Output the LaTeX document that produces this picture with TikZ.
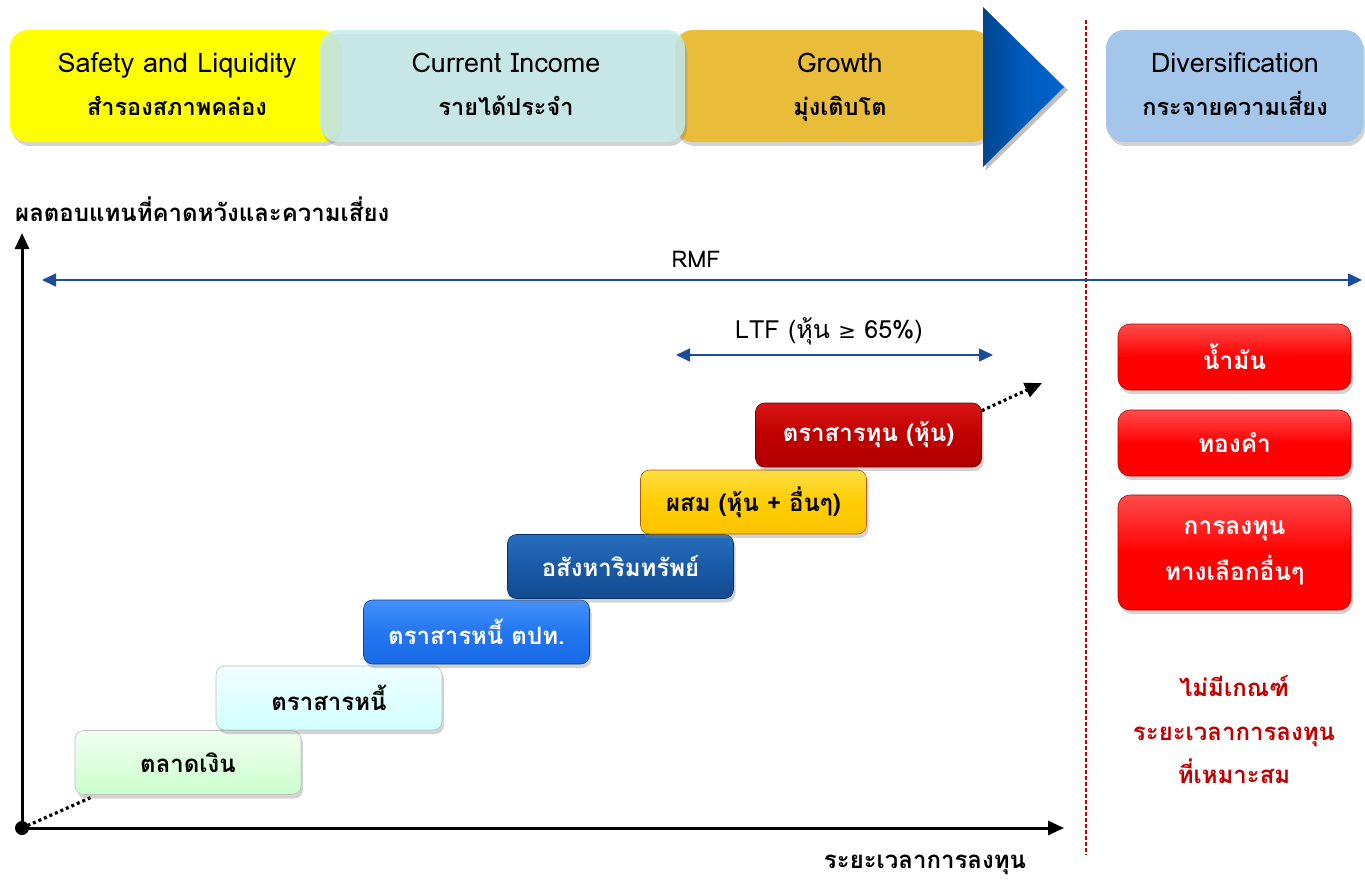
\documentclass[tikz,border=0pt]{standalone}
\usepackage{fontspec}
\setmainfont[Script=Thai]{Loma}
\newfontfamily\symfont{DejaVu Sans}
\usetikzlibrary{arrows.meta,shadows,shapes.geometric}
\definecolor{cYellow}{HTML}{FFFF00}
\definecolor{cCyan}{HTML}{C5EBEB}
\definecolor{cGold}{HTML}{E9BC3A}
\definecolor{cDiv}{HTML}{A3C6EA}
\definecolor{cNavy}{HTML}{1A4C9C}
\definecolor{cDark}{HTML}{C00000}
\definecolor{cBlue}{HTML}{0063CC}
\begin{document}
\begin{tikzpicture}[x=1pt,y=-1pt,
  topbox/.style={rounded corners=18pt, minimum height=112pt, align=center,
     inner sep=0pt,
     drop shadow={shadow xshift=2pt, shadow yshift=-4pt, opacity=0.35}},
  engt/.style={font=\fontsize{27}{32}\selectfont, inner sep=0pt, anchor=base},
  thait/.style={font=\bfseries\fontsize{23.5}{28}\selectfont, inner sep=0pt, anchor=base},
  stepbox/.style={rounded corners=9pt, minimum width=226pt, minimum height=64pt,
     font=\bfseries\fontsize{24}{28}\selectfont, inner sep=0pt, draw=black!25, line width=0.6pt,
     drop shadow={shadow xshift=2pt, shadow yshift=-4pt, opacity=0.35}},
  altbox/.style={rounded corners=12pt, minimum width=233pt, align=center,
     font=\bfseries\fontsize{24.5}{46}\selectfont, inner sep=0pt, text=white,
     top color=red!70!white, bottom color=red, middle color=red, draw=red!70!black, line width=0.6pt,
     drop shadow={shadow xshift=2pt, shadow yshift=-4pt, opacity=0.35}},
  rng/.style={cNavy, line width=1.6pt, {Triangle[width=13pt,length=14pt]}-{Triangle[width=13pt,length=14pt]}},
  axis/.style={black, line width=3pt, -{Triangle[width=14pt,length=16pt]}},
  dots/.style={black, line width=3.2pt, dash pattern=on 3pt off 3pt, line cap=butt},
  lbl/.style={font=\fontsize{23}{27}\selectfont, inner sep=0pt},
  blbl/.style={font=\bfseries\fontsize{24}{28}\selectfont, inner sep=0pt},
  redtxt/.style={text=cDark, font=\bfseries\fontsize{24}{43.5}\selectfont, align=center, inner sep=0pt}
]
\useasboundingbox (0,0) rectangle (1365,892);

% top band
\node[topbox, fill=cYellow, minimum width=330pt] (safe) at (175,86) {};
\node[topbox, fill=cGold, minimum width=315pt] (grow) at (832.5,86) {};
\node[topbox, fill=cCyan, fill opacity=0.85, minimum width=365pt, drop shadow={opacity=0}] (inc) at (502.5,86) {};
\node[engt] (safe1) at (177,72) {Safety and Liquidity};
\node[thait] (safe2) at (177,115) {สำรองสภาพคล่อง};
\node[engt] (inc1) at (506,72) {Current Income};
\node[thait] (inc2) at (506,115) {รายได้ประจำ};
\node[engt] (grow1) at (840,72) {Growth};
\node[thait] (grow2) at (840,115) {มุ่งเติบโต};
\fill[black, opacity=0.25] (986,10) -- (986,170) -- (1068,90) -- cycle;
\shade[left color=cBlue!70!black, right color=cBlue, middle color=cBlue!92!black] (983,7) -- (983,167) -- (1064,87) -- cycle;
\coordinate (tri) at (1064,87);

\node[topbox, fill=cDiv, minimum width=257pt] (div) at (1234.5,86) {};
\node[engt] (div1) at (1235,72) {Diversification};
\node[thait] (div2) at (1235,115) {กระจายความเสี่ยง};

% divider
\draw[cDark, line width=1.3pt, dash pattern=on 4pt off 2pt] (1086,20) coordinate (d1) -- (1086,855) coordinate (d2);

% axes
\coordinate (O) at (22,828);
\coordinate (ytop) at (22,233);
\coordinate (xend) at (1064,828);
\draw[axis] (O) -- (ytop);
\draw[axis] (O) -- (xend);
\fill[black] (O) circle (7pt);
\node[blbl, anchor=west] (ylab) at (15,209) {ผลตอบแทนที่คาดหวังและความเสี่ยง};
\node[blbl] (xlab) at (925,865) {ระยะเวลาการลงทุน};

% ranges
\coordinate (r1) at (42,280);
\coordinate (r2) at (1362,280);
\draw[rng] (r1) -- (r2);
\node[lbl] (rmf) at (696,259) {RMF};
\coordinate (l1) at (676,355);
\coordinate (l2) at (993,355);
\draw[rng] (l1) -- (l2);
\node[lbl, font=\fontsize{25}{29}\selectfont] (ltf) at (829,331) {LTF (หุ้น {\symfont\fontsize{21}{24}\selectfont ≥} 65\%)};

% dotted leaders
\coordinate (s1c) at (92,797);
\draw[dots] (O) -- (s1c);

% steps
\node[stepbox, top color=green!6, bottom color=green!20!white] (s1) at (188,762.5) {ตลาดเงิน};
\node[stepbox, top color=cyan!6, bottom color=cyan!18!white] (s2) at (329,698) {ตราสารหนี้};
\node[stepbox, top color={rgb,255:red,70;green,145;blue,250}, bottom color={rgb,255:red,25;green,105;blue,230}, middle color={rgb,255:red,35;green,118;blue,240}, text=white, draw=cBlue!70!black] (s3) at (476.5,632) {ตราสารหนี้ ตปท.};
\node[stepbox, top color={rgb,255:red,40;green,110;blue,190}, bottom color={rgb,255:red,18;green,75;blue,145}, middle color={rgb,255:red,25;green,90;blue,165}, text=white, draw=cBlue!50!black] (s4) at (620.5,566.5) {อสังหาริมทรัพย์};
\node[stepbox, top color={rgb,255:red,255;green,222;blue,70}, bottom color={rgb,255:red,250;green,195;blue,0}, middle color={rgb,255:red,255;green,205;blue,0}, draw=orange!70!black] (s5) at (753.5,502) {ผสม (หุ้น + อื่นๆ)};
\node[stepbox, top color={rgb,255:red,215;green,20;blue,20}, bottom color={rgb,255:red,175;green,0;blue,0}, middle color=cDark, text=white, draw=cDark!60!black] (s6) at (868.5,435) {ตราสารทุน (หุ้น)};

\coordinate (dend) at (1042,383);
\draw[dots, -{Triangle[width=15pt,length=17pt]}] ([yshift=-8pt]s6.north east) -- (dend);

% alternatives
\node[altbox, minimum height=66pt] (oil) at (1234.5,357) {น้ำมัน};
\node[altbox, minimum height=66pt] (gold) at (1234.5,443) {ทองคำ};
\node[altbox, minimum height=115pt] (alt) at (1234.5,552.5) {การลงทุน\\ทางเลือกอื่นๆ};

\node[redtxt] (note) at (1234,730) {ไม่มีเกณฑ์\\ระยะเวลาการลงทุน\\ที่เหมาะสม};
\end{tikzpicture}
\end{document}
